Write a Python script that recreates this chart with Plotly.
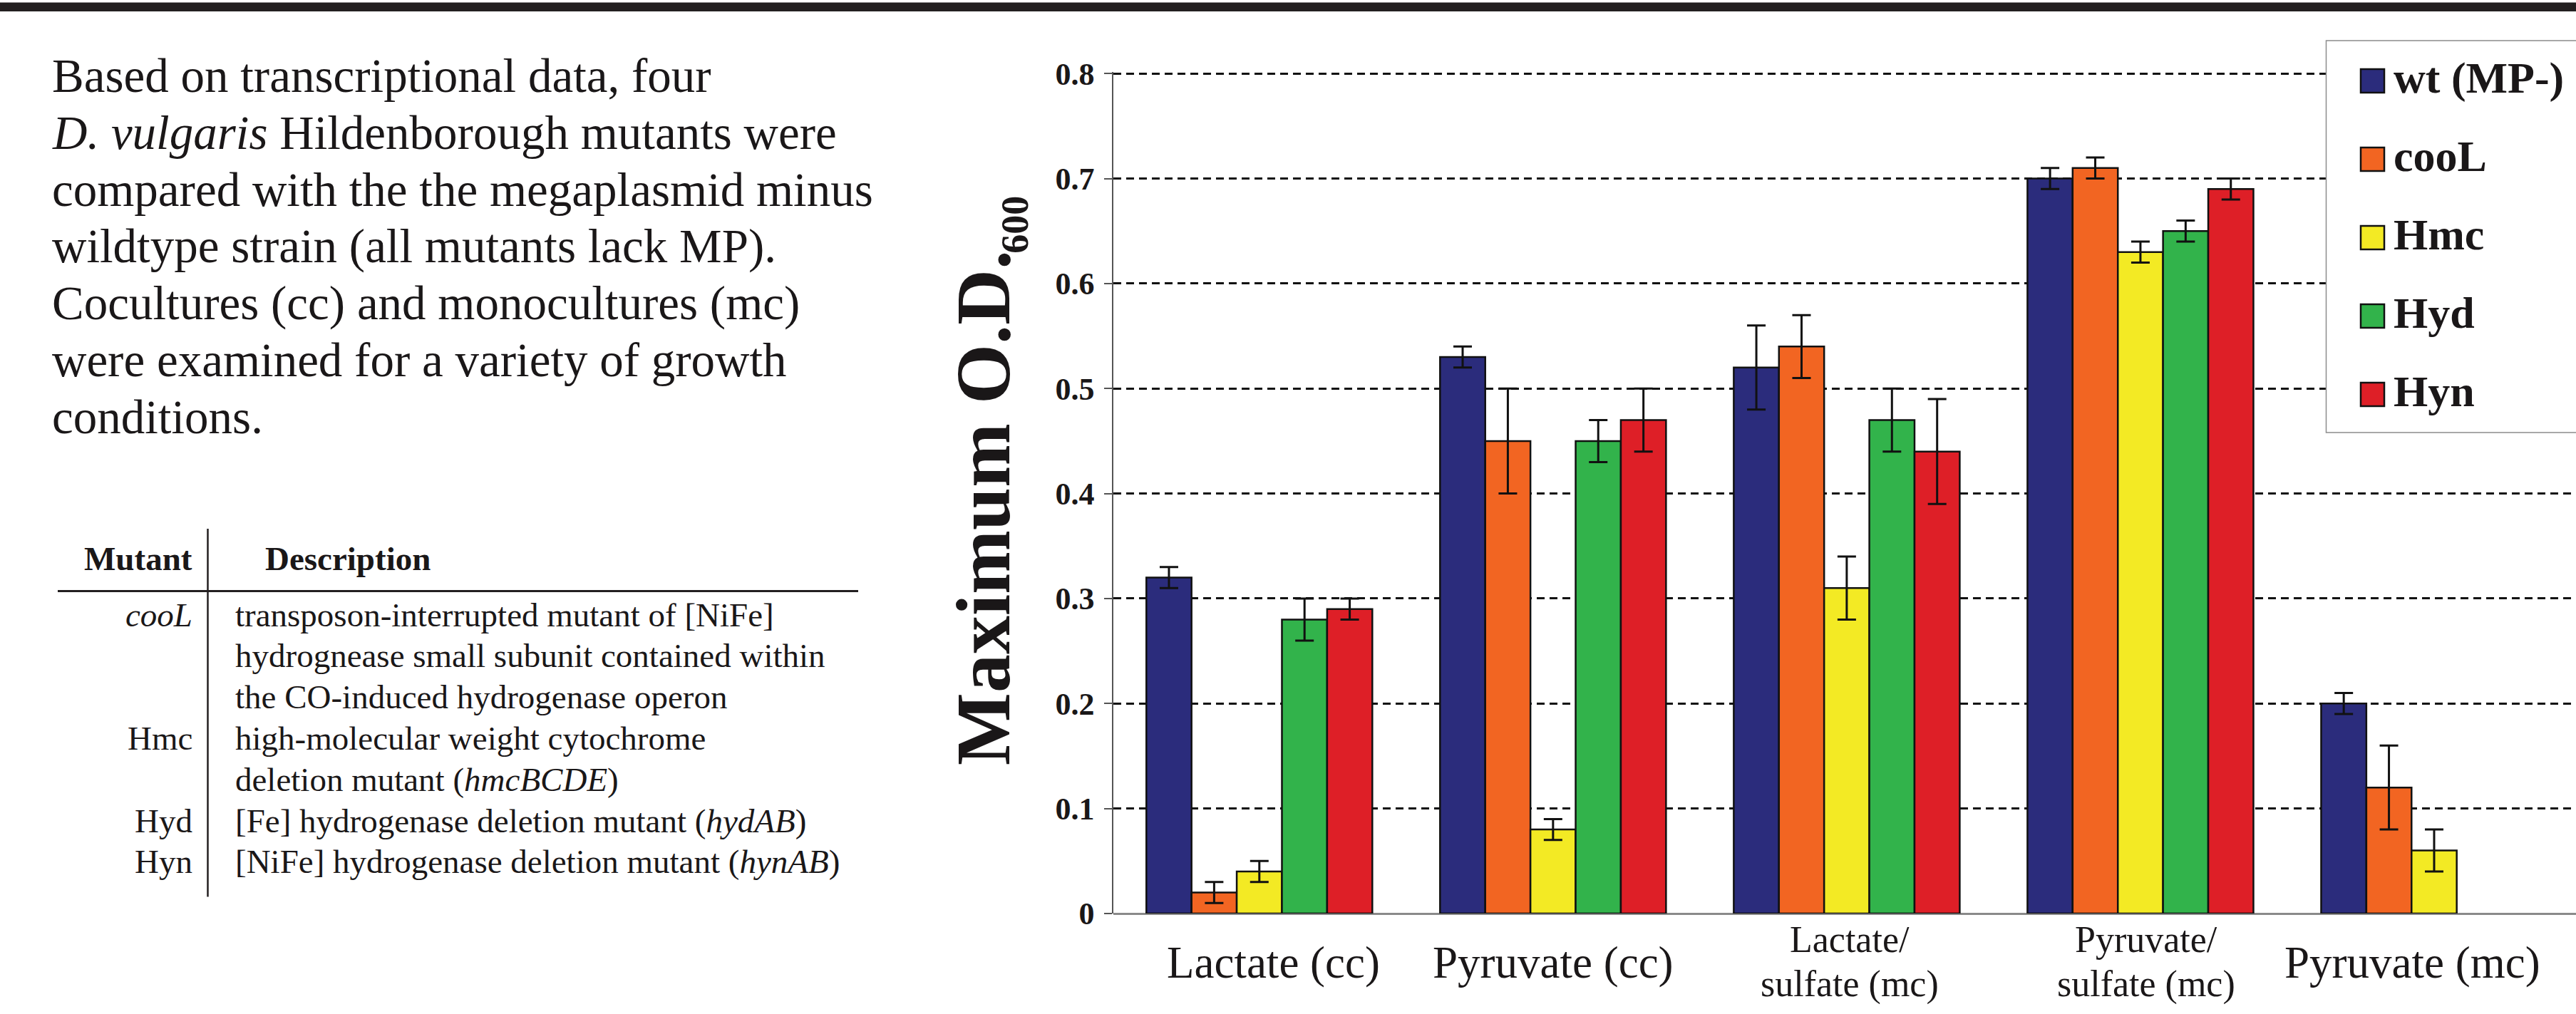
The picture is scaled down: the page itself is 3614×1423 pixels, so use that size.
import plotly.graph_objects as go

# ---------------- data ----------------
categories = ["Lactate (cc)", "Pyruvate (cc)", "Lactate/sulfate (mc)",
              "Pyruvate/sulfate (mc)", "Pyruvate (mc)"]
category_label_lines = [["Lactate (cc)"], ["Pyruvate (cc)"], ["Lactate/", "sulfate (mc)"],
                        ["Pyruvate/", "sulfate (mc)"], ["Pyruvate (mc)"]]

series_names = ["wt (MP-)", "cooL", "Hmc", "Hyd", "Hyn"]

wt_mp = [0.32, 0.53, 0.52, 0.70, 0.20]
wt_mp_err = [0.01, 0.01, 0.04, 0.01, 0.01]
cool = [0.02, 0.45, 0.54, 0.71, 0.12]
cool_err = [0.01, 0.05, 0.03, 0.01, 0.04]
hmc = [0.04, 0.08, 0.31, 0.63, 0.06]
hmc_err = [0.01, 0.01, 0.03, 0.01, 0.02]
hyd = [0.28, 0.45, 0.47, 0.65, None]
hyd_err = [0.02, 0.02, 0.03, 0.01, None]
hyn = [0.29, 0.47, 0.44, 0.69, None]
hyn_err = [0.01, 0.03, 0.05, 0.01, None]

y_tick_values = [0, 0.1, 0.2, 0.3, 0.4, 0.5, 0.6, 0.7, 0.8]
y_tick_labels = ["0", "0.1", "0.2", "0.3", "0.4", "0.5", "0.6", "0.7", "0.8"]
y_max = 0.8

y_title = "Maximum O.D."
y_title_sub = "600"

paragraph_lines = [
    "Based on transcriptional data, four",
    "<i>D. vulgaris</i> Hildenborough mutants were",
    "compared with the the megaplasmid minus",
    "wildtype strain (all mutants lack MP).",
    "Cocultures (cc) and monocultures (mc)",
    "were examined for a variety of growth",
    "conditions.",
]

table_header = ["Mutant", "Description"]
table_rows = [
    ("<i>cooL</i>", "transposon-interrupted mutant of [NiFe]"),
    ("", "hydrognease small subunit contained within"),
    ("", "the CO-induced hydrogenase operon"),
    ("Hmc", "high-molecular weight cytochrome"),
    ("", "deletion mutant (<i>hmcBCDE</i>)"),
    ("Hyd", "[Fe] hydrogenase deletion mutant (<i>hydAB</i>)"),
    ("Hyn", "[NiFe] hydrogenase deletion mutant (<i>hynAB</i>)"),
]

# ---------------- styles / geometry ----------------
colors = ["#2b2c7c", "#f26522", "#f3ea24", "#32b34b", "#de1f27"]
INK = "#1a1718"
SERIF = "Liberation Serif, Times New Roman, Times, serif"

W, H = 3614, 1423
ML, MR, MT, MB = 1562, 0, 101, 141
PW = W - ML - MR
PH = H - MT - MB
CENTER_K = 0.3375  # (ascent - descent)/2 for Times-metric fonts
Y_TOP = y_max * 1.0019  # a hair above the top tick so its grid line is kept


def xp(px):
    return (px - ML) / PW


def yp(py):
    return (H - MB - py) / PH


fig = go.Figure()

values = [wt_mp, cool, hmc, hyd, hyn]
errors = [wt_mp_err, cool_err, hmc_err, hyd_err, hyn_err]
for name, vals, errs, col in zip(series_names, values, errors, colors):
    fig.add_trace(go.Bar(
        name=name, x=categories, y=vals,
        marker=dict(color=col, line=dict(color="#111111", width=2.5)),
        error_y=dict(type="data", array=errs, visible=True, color="#111111",
                     thickness=3, width=13),
        showlegend=False,
    ))

fig.update_layout(
    width=W, height=H,
    margin=dict(l=ML, r=MR, t=MT, b=MB, pad=0, autoexpand=False),
    paper_bgcolor="white", plot_bgcolor="white",
    barmode="group", bargap=0.2306, bargroupgap=0,
    showlegend=False,
    font=dict(family=SERIF, color=INK),
    xaxis=dict(type="category", categoryorder="array", categoryarray=categories,
               range=[-0.497, 4.483], showticklabels=False, ticks="",
               showgrid=False, showline=False, zeroline=False),
    yaxis=dict(range=[0, Y_TOP], tickmode="array", tickvals=y_tick_values,
               ticktext=y_tick_labels, ticks="outside", ticklen=11, tickwidth=1.5,
               tickcolor="#555555", showline=True, linecolor="#555555", linewidth=1.5,
               showgrid=True, gridcolor="#111111", gridwidth=3.2, griddash="11px,7px",
               zeroline=True, zerolinecolor="#8a8a8a", zerolinewidth=3,
               ticklabelstandoff=5,
               tickfont=dict(family=SERIF, size=44, color=INK, weight="bold")),
)


def add_text(text, x_px, baseline_px, size, anchor="left", bold=False):
    fig.add_annotation(
        text=text, xref="paper", yref="paper",
        x=xp(x_px), y=yp(baseline_px - CENTER_K * size),
        xanchor=anchor, yanchor="middle", showarrow=False, align=anchor,
        borderpad=0, borderwidth=0,
        font=dict(family=SERIF, size=size, color=INK, weight="bold" if bold else "normal"),
    )


# top rule of the poster
fig.add_shape(type="rect", xref="paper", yref="paper", x0=xp(0), x1=xp(W),
              y0=yp(16), y1=yp(3.5), fillcolor="#231f20", line=dict(width=0), layer="above")

# paragraph
para_base0, para_step = 129, 79.7
for i, line in enumerate(paragraph_lines):
    add_text(line, 72.5, para_base0 + i * para_step, 67)

# table
add_text(table_header[0], 270, 800, 47, anchor="right", bold=True)
add_text(table_header[1], 372, 800, 47, bold=True)
row_base0, row_step = 878.5, 57.8
for i, (mut, desc) in enumerate(table_rows):
    b = row_base0 + i * row_step
    if mut:
        add_text(mut, 270, b, 47, anchor="right")
    add_text(desc, 329.5, b, 47)
fig.add_shape(type="line", xref="paper", yref="paper", x0=xp(81), x1=xp(1204),
              y0=yp(829.5), y1=yp(829.5), line=dict(color="#231f20", width=3))
fig.add_shape(type="line", xref="paper", yref="paper", x0=xp(291.5), x1=xp(291.5),
              y0=yp(742), y1=yp(1258.5), line=dict(color="#231f20", width=2.5))

# y-axis title (rotated): main text plus a smaller, lowered "600"
TITLE_SIZE, SUB_SIZE = 108, 54
title_baseline_x, title_start_y = 1416, 1074
fig.add_annotation(
    text=y_title, xref="paper", yref="paper",
    x=xp(title_baseline_x - CENTER_K * TITLE_SIZE), y=yp(title_start_y - 361.5),
    xanchor="center", yanchor="middle", textangle=-90, showarrow=False,
    borderpad=0, borderwidth=0,
    font=dict(family=SERIF, size=TITLE_SIZE, color=INK, weight="bold"),
)
fig.add_annotation(
    text=y_title_sub, xref="paper", yref="paper",
    x=xp(1442 - CENTER_K * SUB_SIZE), y=yp(315),
    xanchor="center", yanchor="middle", textangle=-90, showarrow=False,
    borderpad=0, borderwidth=0,
    font=dict(family=SERIF, size=SUB_SIZE, color=INK, weight="bold"),
)

# category labels (under the axis)
single_base = 1372
double_base = [1336, 1398.5]
label_xshift = [20, 0, 4, 8, -30]
for cat, lines, dx in zip(categories, category_label_lines, label_xshift):
    if len(lines) == 1:
        fig.add_annotation(text=lines[0], xref="x", yref="paper", x=cat,
                           y=yp(single_base - CENTER_K * 63), xshift=dx,
                           xanchor="center", yanchor="middle", showarrow=False,
                           borderpad=0, borderwidth=0,
                           font=dict(family=SERIF, size=63, color=INK))
    else:
        for ln, b in zip(lines, double_base):
            fig.add_annotation(text=ln, xref="x", yref="paper", x=cat,
                               y=yp(b - CENTER_K * 52), xshift=dx,
                               xanchor="center", yanchor="middle", showarrow=False,
                               borderpad=0, borderwidth=0,
                               font=dict(family=SERIF, size=52, color=INK))

# legend box
fig.add_shape(type="rect", xref="paper", yref="paper", x0=xp(3263.5), x1=xp(W + 20),
              y0=yp(607), y1=yp(57), fillcolor="white",
              line=dict(color="#8c8c8c", width=1.5), layer="above")
leg_base0, leg_step = 130, 110
for i, (name, col) in enumerate(zip(series_names, colors)):
    b = leg_base0 + i * leg_step
    fig.add_shape(type="rect", xref="paper", yref="paper", x0=xp(3312), x1=xp(3345),
                  y0=yp(b), y1=yp(b - 33), fillcolor=col,
                  line=dict(color="#111111", width=2.5), layer="above")
    add_text(name, 3358, b, 62, bold=True)

fig.write_html("out.html", config={"displayModeBar": False},
               post_script="document.body.style.margin='0';document.body.style.overflow='hidden';")
